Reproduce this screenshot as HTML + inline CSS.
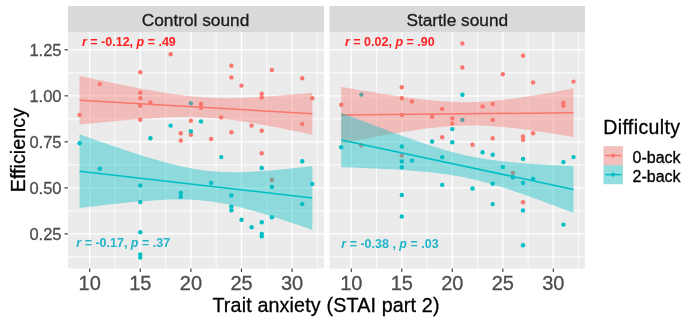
<!DOCTYPE html>
<html><head><meta charset="utf-8"><style>
html,body{margin:0;padding:0;background:#fff;}
body{width:685px;height:323px;position:relative;overflow:hidden;font-family:"Liberation Sans",sans-serif;}
svg text{font-family:"Liberation Sans",sans-serif;}
svg{filter:blur(0.45px);}
</style></head><body>
<svg width="685" height="323" viewBox="0 0 685 323" style="position:absolute;left:0;top:0"><rect x="68.0" y="32.0" width="256.0" height="236.5" fill="#EBEBEB"/><line x1="68.0" x2="324.0" y1="256.91" y2="256.91" stroke="#fff" stroke-opacity="0.75" stroke-width="1.1"/><line x1="68.0" x2="324.0" y1="210.89" y2="210.89" stroke="#fff" stroke-opacity="0.75" stroke-width="1.1"/><line x1="68.0" x2="324.0" y1="164.88" y2="164.88" stroke="#fff" stroke-opacity="0.75" stroke-width="1.1"/><line x1="68.0" x2="324.0" y1="118.86" y2="118.86" stroke="#fff" stroke-opacity="0.75" stroke-width="1.1"/><line x1="68.0" x2="324.0" y1="72.84" y2="72.84" stroke="#fff" stroke-opacity="0.75" stroke-width="1.1"/><line x1="115.00" x2="115.00" y1="32.0" y2="268.5" stroke="#fff" stroke-opacity="0.75" stroke-width="1.1"/><line x1="165.60" x2="165.60" y1="32.0" y2="268.5" stroke="#fff" stroke-opacity="0.75" stroke-width="1.1"/><line x1="216.20" x2="216.20" y1="32.0" y2="268.5" stroke="#fff" stroke-opacity="0.75" stroke-width="1.1"/><line x1="266.80" x2="266.80" y1="32.0" y2="268.5" stroke="#fff" stroke-opacity="0.75" stroke-width="1.1"/><line x1="317.40" x2="317.40" y1="32.0" y2="268.5" stroke="#fff" stroke-opacity="0.75" stroke-width="1.1"/><line x1="68.0" x2="324.0" y1="233.90" y2="233.90" stroke="#fff" stroke-width="1.3"/><line x1="68.0" x2="324.0" y1="187.88" y2="187.88" stroke="#fff" stroke-width="1.3"/><line x1="68.0" x2="324.0" y1="141.87" y2="141.87" stroke="#fff" stroke-width="1.3"/><line x1="68.0" x2="324.0" y1="95.85" y2="95.85" stroke="#fff" stroke-width="1.3"/><line x1="68.0" x2="324.0" y1="49.83" y2="49.83" stroke="#fff" stroke-width="1.3"/><line x1="89.70" x2="89.70" y1="32.0" y2="268.5" stroke="#fff" stroke-width="1.3"/><line x1="140.30" x2="140.30" y1="32.0" y2="268.5" stroke="#fff" stroke-width="1.3"/><line x1="190.90" x2="190.90" y1="32.0" y2="268.5" stroke="#fff" stroke-width="1.3"/><line x1="241.50" x2="241.50" y1="32.0" y2="268.5" stroke="#fff" stroke-width="1.3"/><line x1="292.10" x2="292.10" y1="32.0" y2="268.5" stroke="#fff" stroke-width="1.3"/><circle cx="170.66" cy="54.30" r="2.2" fill="#F8766D"/><circle cx="140.30" cy="72.20" r="2.2" fill="#F8766D"/><circle cx="99.82" cy="84.10" r="2.2" fill="#F8766D"/><circle cx="140.30" cy="92.80" r="2.2" fill="#F8766D"/><circle cx="140.30" cy="98.30" r="2.2" fill="#F8766D"/><circle cx="140.30" cy="105.70" r="2.2" fill="#F8766D"/><circle cx="150.42" cy="102.50" r="2.2" fill="#F8766D"/><circle cx="201.02" cy="104.00" r="2.2" fill="#F8766D"/><circle cx="201.02" cy="107.70" r="2.2" fill="#F8766D"/><circle cx="231.38" cy="65.70" r="2.2" fill="#F8766D"/><circle cx="231.38" cy="77.40" r="2.2" fill="#F8766D"/><circle cx="241.50" cy="85.60" r="2.2" fill="#F8766D"/><circle cx="271.86" cy="70.00" r="2.2" fill="#F8766D"/><circle cx="261.74" cy="93.80" r="2.2" fill="#F8766D"/><circle cx="261.74" cy="97.50" r="2.2" fill="#F8766D"/><circle cx="302.22" cy="78.20" r="2.2" fill="#F8766D"/><circle cx="312.34" cy="98.30" r="2.2" fill="#F8766D"/><circle cx="79.58" cy="114.90" r="2.2" fill="#F8766D"/><circle cx="140.30" cy="119.70" r="2.2" fill="#F8766D"/><circle cx="190.90" cy="120.70" r="2.2" fill="#F8766D"/><circle cx="221.26" cy="117.40" r="2.2" fill="#F8766D"/><circle cx="180.78" cy="133.30" r="2.2" fill="#F8766D"/><circle cx="180.78" cy="140.50" r="2.2" fill="#F8766D"/><circle cx="190.90" cy="134.80" r="2.2" fill="#F8766D"/><circle cx="211.14" cy="139.00" r="2.2" fill="#F8766D"/><circle cx="231.38" cy="132.30" r="2.2" fill="#F8766D"/><circle cx="251.62" cy="125.60" r="2.2" fill="#F8766D"/><circle cx="261.74" cy="130.80" r="2.2" fill="#F8766D"/><circle cx="261.74" cy="153.20" r="2.2" fill="#F8766D"/><circle cx="302.22" cy="124.10" r="2.2" fill="#F8766D"/><circle cx="271.86" cy="179.70" r="2.2" fill="#F8766D"/><circle cx="190.90" cy="103.20" r="2.2" fill="#00BFC4"/><circle cx="79.58" cy="143.20" r="2.2" fill="#00BFC4"/><circle cx="150.42" cy="138.30" r="2.2" fill="#00BFC4"/><circle cx="170.66" cy="125.60" r="2.2" fill="#00BFC4"/><circle cx="190.90" cy="131.30" r="2.2" fill="#00BFC4"/><circle cx="201.02" cy="121.40" r="2.2" fill="#00BFC4"/><circle cx="221.26" cy="157.10" r="2.2" fill="#00BFC4"/><circle cx="99.82" cy="168.80" r="2.2" fill="#00BFC4"/><circle cx="140.30" cy="185.40" r="2.2" fill="#00BFC4"/><circle cx="211.14" cy="182.90" r="2.2" fill="#00BFC4"/><circle cx="261.74" cy="168.00" r="2.2" fill="#00BFC4"/><circle cx="302.22" cy="161.30" r="2.2" fill="#00BFC4"/><circle cx="271.86" cy="186.90" r="2.2" fill="#00BFC4"/><circle cx="312.34" cy="183.90" r="2.2" fill="#00BFC4"/><circle cx="140.30" cy="202.10" r="2.2" fill="#00BFC4"/><circle cx="140.30" cy="232.20" r="2.2" fill="#00BFC4"/><circle cx="140.30" cy="254.50" r="2.2" fill="#00BFC4"/><circle cx="140.30" cy="257.50" r="2.2" fill="#00BFC4"/><circle cx="180.78" cy="193.00" r="2.2" fill="#00BFC4"/><circle cx="180.78" cy="196.70" r="2.2" fill="#00BFC4"/><circle cx="231.38" cy="195.40" r="2.2" fill="#00BFC4"/><circle cx="231.38" cy="206.60" r="2.2" fill="#00BFC4"/><circle cx="231.38" cy="210.30" r="2.2" fill="#00BFC4"/><circle cx="241.50" cy="219.80" r="2.2" fill="#00BFC4"/><circle cx="251.62" cy="227.20" r="2.2" fill="#00BFC4"/><circle cx="261.74" cy="222.20" r="2.2" fill="#00BFC4"/><circle cx="261.74" cy="233.90" r="2.2" fill="#00BFC4"/><circle cx="261.74" cy="236.40" r="2.2" fill="#00BFC4"/><circle cx="271.86" cy="217.30" r="2.2" fill="#00BFC4"/><circle cx="302.22" cy="204.10" r="2.2" fill="#00BFC4"/><path d="M79.58,75.85 L83.46,76.69 L87.34,77.53 L91.22,78.37 L95.10,79.20 L98.98,80.02 L102.86,80.84 L106.74,81.66 L110.61,82.47 L114.49,83.28 L118.37,84.07 L122.25,84.87 L126.13,85.65 L130.01,86.42 L133.89,87.18 L137.77,87.94 L141.65,88.68 L145.53,89.40 L149.41,90.12 L153.29,90.81 L157.17,91.49 L161.05,92.15 L164.93,92.79 L168.80,93.40 L172.68,93.98 L176.56,94.54 L180.44,95.06 L184.32,95.55 L188.20,96.00 L192.08,96.41 L195.96,96.78 L199.84,97.11 L203.72,97.39 L207.60,97.62 L211.48,97.81 L215.36,97.96 L219.24,98.05 L223.12,98.11 L226.99,98.13 L230.87,98.10 L234.75,98.05 L238.63,97.95 L242.51,97.83 L246.39,97.68 L250.27,97.51 L254.15,97.31 L258.03,97.09 L261.91,96.85 L265.79,96.59 L269.67,96.32 L273.55,96.04 L277.43,95.74 L281.31,95.43 L285.18,95.11 L289.06,94.78 L292.94,94.45 L296.82,94.10 L300.70,93.75 L304.58,93.39 L308.46,93.03 L312.34,92.66 L312.34,134.74 L308.46,133.92 L304.58,133.11 L300.70,132.30 L296.82,131.50 L292.94,130.70 L289.06,129.92 L285.18,129.14 L281.31,128.37 L277.43,127.61 L273.55,126.86 L269.67,126.13 L265.79,125.41 L261.91,124.70 L258.03,124.01 L254.15,123.34 L250.27,122.69 L246.39,122.07 L242.51,121.47 L238.63,120.90 L234.75,120.35 L230.87,119.85 L226.99,119.37 L223.12,118.94 L219.24,118.55 L215.36,118.19 L211.48,117.89 L207.60,117.63 L203.72,117.41 L199.84,117.24 L195.96,117.12 L192.08,117.04 L188.20,117.00 L184.32,117.00 L180.44,117.04 L176.56,117.11 L172.68,117.22 L168.80,117.35 L164.93,117.51 L161.05,117.70 L157.17,117.91 L153.29,118.14 L149.41,118.38 L145.53,118.65 L141.65,118.92 L137.77,119.21 L133.89,119.52 L130.01,119.83 L126.13,120.15 L122.25,120.48 L118.37,120.83 L114.49,121.17 L110.61,121.53 L106.74,121.89 L102.86,122.26 L98.98,122.63 L95.10,123.00 L91.22,123.38 L87.34,123.77 L83.46,124.16 L79.58,124.55 Z" fill="#F8766D" fill-opacity="0.4"/><line x1="79.58" y1="100.2" x2="312.34" y2="113.7" stroke="#F8766D" stroke-width="1.5"/><path d="M79.58,134.31 L83.46,135.69 L87.34,137.07 L91.22,138.44 L95.10,139.80 L98.98,141.16 L102.86,142.51 L106.74,143.85 L110.61,145.19 L114.49,146.51 L118.37,147.83 L122.25,149.13 L126.13,150.42 L130.01,151.70 L133.89,152.96 L137.77,154.21 L141.65,155.44 L145.53,156.64 L149.41,157.83 L153.29,158.99 L157.17,160.12 L161.05,161.22 L164.93,162.29 L168.80,163.33 L172.68,164.32 L176.56,165.27 L180.44,166.16 L184.32,167.01 L188.20,167.80 L192.08,168.53 L195.96,169.19 L199.84,169.79 L203.72,170.33 L207.60,170.79 L211.48,171.18 L215.36,171.50 L219.24,171.76 L223.12,171.95 L226.99,172.08 L230.87,172.15 L234.75,172.17 L238.63,172.13 L242.51,172.05 L246.39,171.93 L250.27,171.77 L254.15,171.58 L258.03,171.35 L261.91,171.09 L265.79,170.81 L269.67,170.51 L273.55,170.18 L277.43,169.84 L281.31,169.48 L285.18,169.10 L289.06,168.71 L292.94,168.30 L296.82,167.88 L300.70,167.46 L304.58,167.02 L308.46,166.57 L312.34,166.12 L312.34,229.88 L308.46,228.53 L304.58,227.19 L300.70,225.86 L296.82,224.54 L292.94,223.23 L289.06,221.93 L285.18,220.65 L281.31,219.38 L277.43,218.12 L273.55,216.88 L269.67,215.66 L265.79,214.47 L261.91,213.29 L258.03,212.14 L254.15,211.02 L250.27,209.93 L246.39,208.88 L242.51,207.87 L238.63,206.89 L234.75,205.97 L230.87,205.09 L226.99,204.27 L223.12,203.50 L219.24,202.80 L215.36,202.16 L211.48,201.59 L207.60,201.09 L203.72,200.66 L199.84,200.30 L195.96,200.01 L192.08,199.78 L188.20,199.61 L184.32,199.51 L180.44,199.46 L176.56,199.47 L172.68,199.52 L168.80,199.62 L164.93,199.76 L161.05,199.94 L157.17,200.14 L153.29,200.38 L149.41,200.65 L145.53,200.94 L141.65,201.26 L137.77,201.59 L133.89,201.94 L130.01,202.31 L126.13,202.70 L122.25,203.10 L118.37,203.51 L114.49,203.93 L110.61,204.36 L106.74,204.80 L102.86,205.25 L98.98,205.71 L95.10,206.17 L91.22,206.64 L87.34,207.12 L83.46,207.60 L79.58,208.09 Z" fill="#00BFC4" fill-opacity="0.4"/><line x1="79.58" y1="171.2" x2="312.34" y2="198.0" stroke="#00BFC4" stroke-width="1.5"/><rect x="68.0" y="6.0" width="256.0" height="26.0" fill="#D9D9D9"/><line x1="89.70" x2="89.70" y1="268.5" y2="272.0" stroke="#333" stroke-width="1.1"/><text x="89.70" y="290.3" font-size="20" fill="#4D4D4D" stroke="#4D4D4D" stroke-width="0.3" text-anchor="middle">10</text><line x1="140.30" x2="140.30" y1="268.5" y2="272.0" stroke="#333" stroke-width="1.1"/><text x="140.30" y="290.3" font-size="20" fill="#4D4D4D" stroke="#4D4D4D" stroke-width="0.3" text-anchor="middle">15</text><line x1="190.90" x2="190.90" y1="268.5" y2="272.0" stroke="#333" stroke-width="1.1"/><text x="190.90" y="290.3" font-size="20" fill="#4D4D4D" stroke="#4D4D4D" stroke-width="0.3" text-anchor="middle">20</text><line x1="241.50" x2="241.50" y1="268.5" y2="272.0" stroke="#333" stroke-width="1.1"/><text x="241.50" y="290.3" font-size="20" fill="#4D4D4D" stroke="#4D4D4D" stroke-width="0.3" text-anchor="middle">25</text><line x1="292.10" x2="292.10" y1="268.5" y2="272.0" stroke="#333" stroke-width="1.1"/><text x="292.10" y="290.3" font-size="20" fill="#4D4D4D" stroke="#4D4D4D" stroke-width="0.3" text-anchor="middle">30</text><rect x="329.5" y="32.0" width="255.5" height="236.5" fill="#EBEBEB"/><line x1="329.5" x2="585.0" y1="256.91" y2="256.91" stroke="#fff" stroke-opacity="0.75" stroke-width="1.1"/><line x1="329.5" x2="585.0" y1="210.89" y2="210.89" stroke="#fff" stroke-opacity="0.75" stroke-width="1.1"/><line x1="329.5" x2="585.0" y1="164.88" y2="164.88" stroke="#fff" stroke-opacity="0.75" stroke-width="1.1"/><line x1="329.5" x2="585.0" y1="118.86" y2="118.86" stroke="#fff" stroke-opacity="0.75" stroke-width="1.1"/><line x1="329.5" x2="585.0" y1="72.84" y2="72.84" stroke="#fff" stroke-opacity="0.75" stroke-width="1.1"/><line x1="376.55" x2="376.55" y1="32.0" y2="268.5" stroke="#fff" stroke-opacity="0.75" stroke-width="1.1"/><line x1="427.05" x2="427.05" y1="32.0" y2="268.5" stroke="#fff" stroke-opacity="0.75" stroke-width="1.1"/><line x1="477.55" x2="477.55" y1="32.0" y2="268.5" stroke="#fff" stroke-opacity="0.75" stroke-width="1.1"/><line x1="528.05" x2="528.05" y1="32.0" y2="268.5" stroke="#fff" stroke-opacity="0.75" stroke-width="1.1"/><line x1="578.55" x2="578.55" y1="32.0" y2="268.5" stroke="#fff" stroke-opacity="0.75" stroke-width="1.1"/><line x1="329.5" x2="585.0" y1="233.90" y2="233.90" stroke="#fff" stroke-width="1.3"/><line x1="329.5" x2="585.0" y1="187.88" y2="187.88" stroke="#fff" stroke-width="1.3"/><line x1="329.5" x2="585.0" y1="141.87" y2="141.87" stroke="#fff" stroke-width="1.3"/><line x1="329.5" x2="585.0" y1="95.85" y2="95.85" stroke="#fff" stroke-width="1.3"/><line x1="329.5" x2="585.0" y1="49.83" y2="49.83" stroke="#fff" stroke-width="1.3"/><line x1="351.30" x2="351.30" y1="32.0" y2="268.5" stroke="#fff" stroke-width="1.3"/><line x1="401.80" x2="401.80" y1="32.0" y2="268.5" stroke="#fff" stroke-width="1.3"/><line x1="452.30" x2="452.30" y1="32.0" y2="268.5" stroke="#fff" stroke-width="1.3"/><line x1="502.80" x2="502.80" y1="32.0" y2="268.5" stroke="#fff" stroke-width="1.3"/><line x1="553.30" x2="553.30" y1="32.0" y2="268.5" stroke="#fff" stroke-width="1.3"/><circle cx="462.40" cy="43.40" r="2.2" fill="#F8766D"/><circle cx="462.40" cy="67.50" r="2.2" fill="#F8766D"/><circle cx="401.80" cy="87.30" r="2.2" fill="#F8766D"/><circle cx="401.80" cy="98.30" r="2.2" fill="#F8766D"/><circle cx="411.90" cy="101.50" r="2.2" fill="#F8766D"/><circle cx="341.20" cy="104.70" r="2.2" fill="#F8766D"/><circle cx="442.20" cy="108.90" r="2.2" fill="#F8766D"/><circle cx="482.60" cy="106.40" r="2.2" fill="#F8766D"/><circle cx="492.70" cy="104.00" r="2.2" fill="#F8766D"/><circle cx="523.00" cy="55.80" r="2.2" fill="#F8766D"/><circle cx="502.80" cy="74.20" r="2.2" fill="#F8766D"/><circle cx="533.10" cy="82.40" r="2.2" fill="#F8766D"/><circle cx="573.50" cy="81.60" r="2.2" fill="#F8766D"/><circle cx="563.40" cy="102.70" r="2.2" fill="#F8766D"/><circle cx="563.40" cy="105.70" r="2.2" fill="#F8766D"/><circle cx="401.80" cy="114.90" r="2.2" fill="#F8766D"/><circle cx="432.10" cy="116.70" r="2.2" fill="#F8766D"/><circle cx="452.30" cy="118.40" r="2.2" fill="#F8766D"/><circle cx="452.30" cy="123.40" r="2.2" fill="#F8766D"/><circle cx="492.70" cy="119.90" r="2.2" fill="#F8766D"/><circle cx="442.20" cy="137.30" r="2.2" fill="#F8766D"/><circle cx="472.50" cy="144.70" r="2.2" fill="#F8766D"/><circle cx="492.70" cy="138.30" r="2.2" fill="#F8766D"/><circle cx="523.00" cy="136.50" r="2.2" fill="#F8766D"/><circle cx="523.00" cy="139.80" r="2.2" fill="#F8766D"/><circle cx="533.10" cy="133.30" r="2.2" fill="#F8766D"/><circle cx="361.40" cy="145.20" r="2.2" fill="#F8766D"/><circle cx="401.80" cy="155.60" r="2.2" fill="#F8766D"/><circle cx="512.90" cy="173.00" r="2.2" fill="#F8766D"/><circle cx="523.00" cy="202.30" r="2.2" fill="#F8766D"/><circle cx="462.40" cy="94.80" r="2.2" fill="#00BFC4"/><circle cx="361.40" cy="94.60" r="2.2" fill="#00BFC4"/><circle cx="462.40" cy="119.90" r="2.2" fill="#00BFC4"/><circle cx="341.20" cy="147.20" r="2.2" fill="#00BFC4"/><circle cx="401.80" cy="146.50" r="2.2" fill="#00BFC4"/><circle cx="401.80" cy="161.40" r="2.2" fill="#00BFC4"/><circle cx="401.80" cy="167.30" r="2.2" fill="#00BFC4"/><circle cx="411.90" cy="160.60" r="2.2" fill="#00BFC4"/><circle cx="432.10" cy="141.50" r="2.2" fill="#00BFC4"/><circle cx="442.20" cy="157.10" r="2.2" fill="#00BFC4"/><circle cx="452.30" cy="129.10" r="2.2" fill="#00BFC4"/><circle cx="452.30" cy="142.20" r="2.2" fill="#00BFC4"/><circle cx="482.60" cy="152.20" r="2.2" fill="#00BFC4"/><circle cx="492.70" cy="154.70" r="2.2" fill="#00BFC4"/><circle cx="442.20" cy="184.90" r="2.2" fill="#00BFC4"/><circle cx="472.50" cy="188.50" r="2.2" fill="#00BFC4"/><circle cx="492.70" cy="183.70" r="2.2" fill="#00BFC4"/><circle cx="502.80" cy="167.10" r="2.2" fill="#00BFC4"/><circle cx="523.00" cy="158.90" r="2.2" fill="#00BFC4"/><circle cx="563.40" cy="162.10" r="2.2" fill="#00BFC4"/><circle cx="573.50" cy="157.10" r="2.2" fill="#00BFC4"/><circle cx="512.90" cy="177.20" r="2.2" fill="#00BFC4"/><circle cx="523.00" cy="182.90" r="2.2" fill="#00BFC4"/><circle cx="533.10" cy="179.00" r="2.2" fill="#00BFC4"/><circle cx="401.80" cy="195.00" r="2.2" fill="#00BFC4"/><circle cx="401.80" cy="216.50" r="2.2" fill="#00BFC4"/><circle cx="492.70" cy="204.10" r="2.2" fill="#00BFC4"/><circle cx="523.00" cy="210.40" r="2.2" fill="#00BFC4"/><circle cx="563.40" cy="224.60" r="2.2" fill="#00BFC4"/><circle cx="523.00" cy="245.20" r="2.2" fill="#00BFC4"/><path d="M341.20,86.86 L345.07,87.53 L348.94,88.20 L352.81,88.87 L356.69,89.53 L360.56,90.19 L364.43,90.84 L368.30,91.48 L372.17,92.12 L376.05,92.75 L379.92,93.38 L383.79,93.99 L387.66,94.60 L391.53,95.19 L395.40,95.77 L399.27,96.35 L403.15,96.90 L407.02,97.44 L410.89,97.97 L414.76,98.47 L418.63,98.96 L422.50,99.42 L426.38,99.86 L430.25,100.27 L434.12,100.65 L437.99,100.99 L441.86,101.30 L445.74,101.56 L449.61,101.79 L453.48,101.97 L457.35,102.10 L461.22,102.18 L465.09,102.20 L468.97,102.18 L472.84,102.10 L476.71,101.97 L480.58,101.79 L484.45,101.55 L488.32,101.28 L492.19,100.95 L496.07,100.59 L499.94,100.18 L503.81,99.74 L507.68,99.27 L511.55,98.77 L515.42,98.24 L519.30,97.69 L523.17,97.11 L527.04,96.52 L530.91,95.91 L534.78,95.28 L538.65,94.63 L542.53,93.98 L546.40,93.31 L550.27,92.63 L554.14,91.94 L558.01,91.24 L561.88,90.53 L565.76,89.82 L569.63,89.10 L573.50,88.37 L573.50,137.03 L569.63,136.38 L565.76,135.74 L561.88,135.11 L558.01,134.48 L554.14,133.86 L550.27,133.25 L546.40,132.65 L542.53,132.06 L538.65,131.49 L534.78,130.92 L530.91,130.37 L527.04,129.84 L523.17,129.33 L519.30,128.83 L515.42,128.36 L511.55,127.91 L507.68,127.49 L503.81,127.10 L499.94,126.74 L496.07,126.41 L492.19,126.13 L488.32,125.88 L484.45,125.69 L480.58,125.53 L476.71,125.43 L472.84,125.38 L468.97,125.38 L465.09,125.44 L461.22,125.54 L457.35,125.70 L453.48,125.91 L449.61,126.17 L445.74,126.48 L441.86,126.82 L437.99,127.21 L434.12,127.63 L430.25,128.09 L426.38,128.58 L422.50,129.10 L418.63,129.64 L414.76,130.21 L410.89,130.79 L407.02,131.40 L403.15,132.02 L399.27,132.65 L395.40,133.31 L391.53,133.97 L387.66,134.64 L383.79,135.33 L379.92,136.02 L376.05,136.73 L372.17,137.44 L368.30,138.16 L364.43,138.88 L360.56,139.61 L356.69,140.35 L352.81,141.09 L348.94,141.84 L345.07,142.59 L341.20,143.34 Z" fill="#F8766D" fill-opacity="0.4"/><line x1="341.20" y1="115.1" x2="573.50" y2="112.7" stroke="#F8766D" stroke-width="1.5"/><path d="M341.20,112.63 L345.07,114.15 L348.94,115.66 L352.81,117.17 L356.69,118.67 L360.56,120.17 L364.43,121.67 L368.30,123.15 L372.17,124.64 L376.05,126.11 L379.92,127.58 L383.79,129.04 L387.66,130.49 L391.53,131.93 L395.40,133.35 L399.27,134.77 L403.15,136.17 L407.02,137.56 L410.89,138.93 L414.76,140.29 L418.63,141.62 L422.50,142.93 L426.38,144.22 L430.25,145.48 L434.12,146.71 L437.99,147.91 L441.86,149.07 L445.74,150.19 L449.61,151.28 L453.48,152.31 L457.35,153.30 L461.22,154.25 L465.09,155.14 L468.97,155.98 L472.84,156.77 L476.71,157.51 L480.58,158.20 L484.45,158.84 L488.32,159.43 L492.19,159.99 L496.07,160.50 L499.94,160.97 L503.81,161.41 L507.68,161.82 L511.55,162.21 L515.42,162.56 L519.30,162.89 L523.17,163.20 L527.04,163.49 L530.91,163.77 L534.78,164.03 L538.65,164.27 L542.53,164.50 L546.40,164.72 L550.27,164.93 L554.14,165.13 L558.01,165.32 L561.88,165.50 L565.76,165.68 L569.63,165.85 L573.50,166.01 L573.50,212.99 L569.63,211.50 L565.76,210.02 L561.88,208.54 L558.01,207.07 L554.14,205.61 L550.27,204.15 L546.40,202.71 L542.53,201.27 L538.65,199.85 L534.78,198.44 L530.91,197.05 L527.04,195.67 L523.17,194.30 L519.30,192.96 L515.42,191.64 L511.55,190.34 L507.68,189.07 L503.81,187.83 L499.94,186.61 L496.07,185.44 L492.19,184.29 L488.32,183.19 L484.45,182.14 L480.58,181.12 L476.71,180.16 L472.84,179.25 L468.97,178.38 L465.09,177.57 L461.22,176.81 L457.35,176.10 L453.48,175.43 L449.61,174.82 L445.74,174.25 L441.86,173.72 L437.99,173.23 L434.12,172.77 L430.25,172.35 L426.38,171.95 L422.50,171.59 L418.63,171.24 L414.76,170.92 L410.89,170.63 L407.02,170.34 L403.15,170.08 L399.27,169.83 L395.40,169.59 L391.53,169.37 L387.66,169.15 L383.79,168.95 L379.92,168.76 L376.05,168.57 L372.17,168.39 L368.30,168.22 L364.43,168.05 L360.56,167.89 L356.69,167.74 L352.81,167.59 L348.94,167.45 L345.07,167.31 L341.20,167.17 Z" fill="#00BFC4" fill-opacity="0.4"/><line x1="341.20" y1="139.9" x2="573.50" y2="189.5" stroke="#00BFC4" stroke-width="1.5"/><rect x="329.5" y="6.0" width="255.5" height="26.0" fill="#D9D9D9"/><line x1="351.30" x2="351.30" y1="268.5" y2="272.0" stroke="#333" stroke-width="1.1"/><text x="351.30" y="290.3" font-size="20" fill="#4D4D4D" stroke="#4D4D4D" stroke-width="0.3" text-anchor="middle">10</text><line x1="401.80" x2="401.80" y1="268.5" y2="272.0" stroke="#333" stroke-width="1.1"/><text x="401.80" y="290.3" font-size="20" fill="#4D4D4D" stroke="#4D4D4D" stroke-width="0.3" text-anchor="middle">15</text><line x1="452.30" x2="452.30" y1="268.5" y2="272.0" stroke="#333" stroke-width="1.1"/><text x="452.30" y="290.3" font-size="20" fill="#4D4D4D" stroke="#4D4D4D" stroke-width="0.3" text-anchor="middle">20</text><line x1="502.80" x2="502.80" y1="268.5" y2="272.0" stroke="#333" stroke-width="1.1"/><text x="502.80" y="290.3" font-size="20" fill="#4D4D4D" stroke="#4D4D4D" stroke-width="0.3" text-anchor="middle">25</text><line x1="553.30" x2="553.30" y1="268.5" y2="272.0" stroke="#333" stroke-width="1.1"/><text x="553.30" y="290.3" font-size="20" fill="#4D4D4D" stroke="#4D4D4D" stroke-width="0.3" text-anchor="middle">30</text><line x1="64.5" x2="68.0" y1="233.90" y2="233.90" stroke="#333" stroke-width="1.1"/><text x="61.5" y="239.90" font-size="16.5" fill="#4D4D4D" stroke="#4D4D4D" stroke-width="0.3" text-anchor="end">0.25</text><line x1="64.5" x2="68.0" y1="187.88" y2="187.88" stroke="#333" stroke-width="1.1"/><text x="61.5" y="193.88" font-size="16.5" fill="#4D4D4D" stroke="#4D4D4D" stroke-width="0.3" text-anchor="end">0.50</text><line x1="64.5" x2="68.0" y1="141.87" y2="141.87" stroke="#333" stroke-width="1.1"/><text x="61.5" y="147.87" font-size="16.5" fill="#4D4D4D" stroke="#4D4D4D" stroke-width="0.3" text-anchor="end">0.75</text><line x1="64.5" x2="68.0" y1="95.85" y2="95.85" stroke="#333" stroke-width="1.1"/><text x="61.5" y="101.85" font-size="16.5" fill="#4D4D4D" stroke="#4D4D4D" stroke-width="0.3" text-anchor="end">1.00</text><line x1="64.5" x2="68.0" y1="49.83" y2="49.83" stroke="#333" stroke-width="1.1"/><text x="61.5" y="55.83" font-size="16.5" fill="#4D4D4D" stroke="#4D4D4D" stroke-width="0.3" text-anchor="end">1.25</text><text x="195.5" y="26.4" font-size="17.3" fill="#1A1A1A" stroke="#1A1A1A" stroke-width="0.3" text-anchor="middle">Control sound</text><text x="457.3" y="26.4" font-size="17.3" fill="#1A1A1A" stroke="#1A1A1A" stroke-width="0.3" text-anchor="middle">Startle sound</text><text x="326" y="312.2" font-size="19.7" letter-spacing="0.15" fill="#000" stroke="#000" stroke-width="0.3" text-anchor="middle">Trait anxiety (STAI part 2)</text><text transform="translate(24.6,150.1) rotate(-90)" font-size="19.8" fill="#000" stroke="#000" stroke-width="0.3" text-anchor="middle">Efficiency</text><text x="603.2" y="134.3" font-size="19.5" letter-spacing="0.4" fill="#000" stroke="#000" stroke-width="0.3">Difficulty</text><rect x="603.5" y="146.2" width="19.4" height="19" fill="#F2F2F2"/><rect x="603.5" y="165.2" width="19.4" height="19" fill="#F2F2F2"/><rect x="603.5" y="146.2" width="19.4" height="19" fill="#F8766D" fill-opacity="0.4"/><rect x="603.5" y="165.2" width="19.4" height="19" fill="#00BFC4" fill-opacity="0.4"/><line x1="605" x2="621.4" y1="155.5" y2="155.5" stroke="#F8766D" stroke-width="1.4"/><circle cx="613.2" cy="155.5" r="2.1" fill="#F8766D"/><line x1="605" x2="621.4" y1="174.6" y2="174.6" stroke="#00BFC4" stroke-width="1.4"/><circle cx="613.2" cy="174.6" r="2.1" fill="#00BFC4"/><text x="632.5" y="162.9" font-size="16" fill="#000" stroke="#000" stroke-width="0.3">0-back</text><text x="632.5" y="181.8" font-size="16" fill="#000" stroke="#000" stroke-width="0.3">2-back</text><text x="82" y="46.1" font-size="12.5" font-weight="bold" fill="#FF2020"><tspan font-style="italic">r</tspan> = -0.12, <tspan font-style="italic">p</tspan> = .49</text><text x="345" y="46.1" font-size="12.5" font-weight="bold" fill="#FF2020"><tspan font-style="italic">r</tspan> = 0.02, <tspan font-style="italic">p</tspan> = .90</text><text x="76.3" y="247" font-size="12.5" font-weight="bold" fill="#22B5CA"><tspan font-style="italic">r</tspan> = -0.17, <tspan font-style="italic">p</tspan> = .37</text><text x="341.3" y="248" font-size="12.5" font-weight="bold" fill="#22B5CA"><tspan font-style="italic">r</tspan> = -0.38 , <tspan font-style="italic">p</tspan> = .03</text></svg>
</body></html>
